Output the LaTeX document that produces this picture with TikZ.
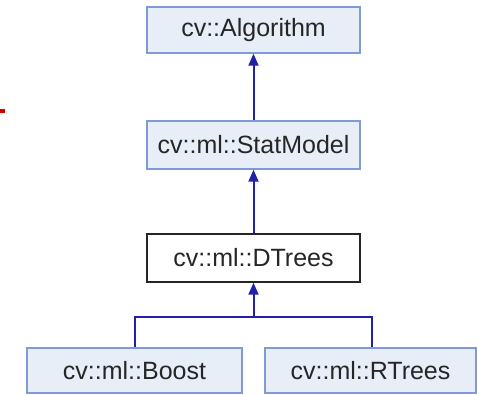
\documentclass[tikz,border=0pt]{standalone}
\usepackage{fontspec}
\setmainfont{Liberation Sans}
\usetikzlibrary{arrows.meta}
\definecolor{boxfill}{HTML}{E8EEF8}
\definecolor{boxdraw}{HTML}{7F9AD6}
\definecolor{linkcol}{HTML}{2020A8}
\tikzset{
  cls/.style={draw=boxdraw, fill=boxfill, line width=1.5pt, minimum height=46pt, inner sep=0pt, font=\fontsize{25}{28}\selectfont, text=black!85},
  curcls/.style={draw=black!85, fill=white, line width=1.5pt, minimum height=48pt, inner sep=0pt, font=\fontsize{25}{28}\selectfont, text=black!85},
  inh/.style={draw=linkcol, line width=2pt, -{Triangle[length=12pt,width=10pt]}},
}
\begin{document}
\begin{tikzpicture}[x=1pt,y=1pt]
\useasboundingbox (0,0) rectangle (477,395);
\fill[white] (0,0) rectangle (477,395);
\node[cls, minimum width=213pt] (alg) at (253.5,365) {cv::Algorithm};
\node[cls, minimum width=213pt, minimum height=48pt] (stat) at (253.5,250) {cv::ml::StatModel};
\node[curcls, minimum width=213pt] (dtrees) at (253.5,137) {cv::ml::DTrees};
\node[cls, minimum width=215pt, minimum height=45pt] (boost) at (134.5,24.5) {cv::ml::Boost};
\node[cls, minimum width=211pt, minimum height=45pt] (rtrees) at (370.5,24.5) {cv::ml::RTrees};
\coordinate (j) at (253.5,78);
\draw[inh] (stat.north) -- (alg.south);
\draw[inh] (dtrees.north) -- (stat.south);
\draw[inh] (j) -- (dtrees.south);
\draw[draw=linkcol, line width=2pt] (boost.north -| 135,0) |- (j) -| (rtrees.north -| 372,0);
\fill[red!80!black] (0,282) rectangle (5,286);
\end{tikzpicture}
\end{document}
